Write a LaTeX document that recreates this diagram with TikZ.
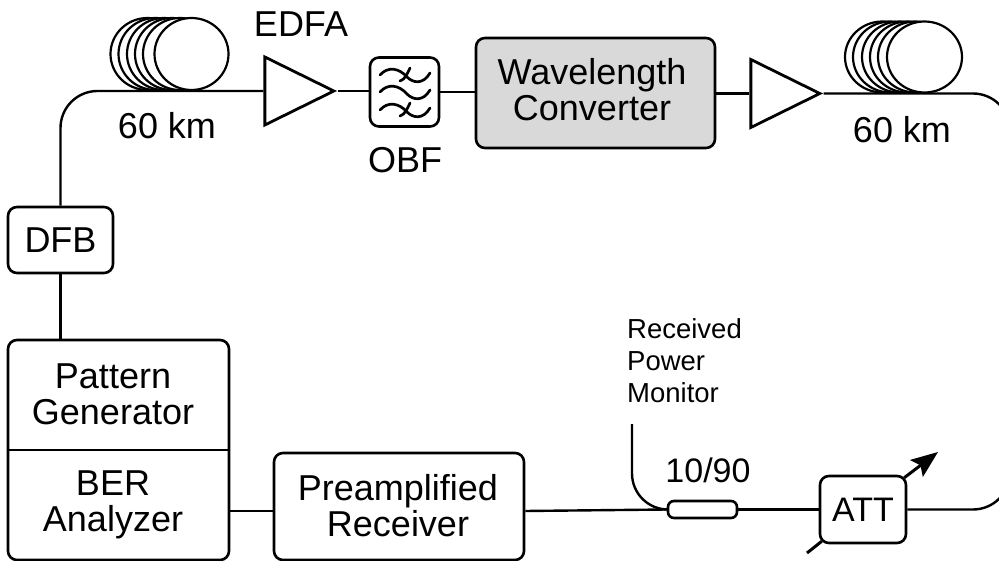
\documentclass[tikz,border=0pt]{standalone}
\usepackage{fontspec}
\setmainfont{Liberation Sans}
\usetikzlibrary{shapes.geometric,arrows.meta}
\tikzset{
  x=1pt,y=-1pt,
  box/.style={draw=black,line width=2.6pt,rounded corners=9pt,inner sep=0pt,align=center},
  label/.style={inner sep=0pt,align=center,font=\fontsize{36}{36}\selectfont},
  small/.style={inner sep=0pt,align=left,font=\fontsize{27.5}{32}\selectfont},
  fiber/.style={draw=black,line width=2.4pt},
  amp/.style={draw=black,line width=2.8pt,isosceles triangle,isosceles triangle stretches=true,
    minimum height=69pt,minimum width=68pt,inner sep=0pt},
  coilback/.style={draw=black,line width=2.2pt,fill=white},
  wave/.style={line width=2.7pt,line cap=round},
}
\begin{document}
\begin{tikzpicture}
\useasboundingbox (0,0) rectangle (999,561);
\clip (0,0) rectangle (999,561);
% coils
\foreach \cx in {147.5,155.5,164,172,180,191.5}{
  \draw[coilback] (\cx,54) ellipse [x radius=37pt,y radius=36pt];
}
\foreach \cx in {882.5,890.5,899.5,907.5,915.5,924.5}{
  \draw[coilback] (\cx,57) ellipse [x radius=37.5pt,y radius=35.5pt];
}
% nodes
\node[box,font=\fontsize{36}{36}\selectfont,minimum width=105pt,minimum height=66pt] (dfb) at (60.5,240) {DFB};
\node[box,minimum width=221pt,minimum height=220pt] (pg) at (118.5,450) {};
\node[amp] (amp1) at (286,91) {};
\node[box,minimum width=69pt,minimum height=69pt] (obf) at (404.5,92) {};
\node[box,fill=gray!30,minimum width=239pt,minimum height=110pt] (wc) at (595.5,93) {};
\node[amp] (amp2) at (772,93.5) {};
\node[box,minimum width=250pt,minimum height=107pt] (rx) at (399,506.5) {};
\node[box,minimum width=69pt,minimum height=17pt,rounded corners=6pt] (cpl) at (702.5,509.5) {};
\node[box,font=\fontsize{34}{36}\selectfont,minimum width=86pt,minimum height=67pt] (att) at (863,509.5) {ATT};
% coordinates
\coordinate (mon) at (632,424);
\coordinate (rightMid) at (1010,300);
\coordinate (attIn) at (807,553);
\coordinate (attOut) at (938,452);
\coordinate (link) at (0,511);
% fibers
\draw[fiber,rounded corners=37pt] (dfb.north) -- (dfb.north |- amp1.lower side) -- (amp1.lower side);
\draw[fiber] (dfb.south) -- (dfb.south |- pg.north);
\draw[fiber] (amp1.apex) -- (amp1.apex -| obf.west);
\draw[fiber] (obf.east) -- (obf.east -| wc.west);
\draw[fiber] (amp2.lower side -| wc.east) -- (amp2.lower side);
\draw[fiber,rounded corners=37pt] (amp2.apex) -- (amp2.apex -| rightMid) -- (rightMid);
\draw[line width=2.6pt] (pg.west) -- (pg.east);
\draw[fiber] (pg.east |- link) -- (rx.west |- link);
\draw[fiber] (rx.east |- link) -- (cpl.west);
\draw[fiber] (cpl.east) -- (att.west);
\draw[fiber,rounded corners=37pt] (att.east) -- (att.east -| rightMid) -- (rightMid);
\draw[fiber,rounded corners=36pt] (mon) -- (mon |- cpl.west) -- (cpl.west);
% attenuator arrow
\draw[line width=3pt] (attIn) -- ([shift={(3,-3)}]att.south west);
\draw[line width=3pt,-{Stealth[length=27pt,width=21pt,inset=5pt]}] ([shift={(-3,3)}]att.north east) -- (attOut);
% filter glyph
\foreach \yy in {75,92,110}{
  \draw[wave] (380,\yy) .. controls (388,\yy-9) and (399,\yy-7) .. (407,\yy+2) .. controls (413,\yy+8) and (423,\yy+10) .. (430,\yy-2);
}
\foreach \yy in {75,110}{
  \draw[wave] (400,\yy+6) .. controls (405,\yy+5) and (408,\yy-3) .. (410,\yy-7);
}
% labels
\node[label] (l1) at (167,126) {60 km};
\node[label] (l2) at (301,24) {EDFA};
\node[label] (l3) at (405,160) {OBF};
\node[label] (l4) at (592,90) {Wavelength\\Converter};
\node[label] (l5) at (902,130) {60 km};
\node[label] (l6) at (113,394) {Pattern\\Generator};
\node[label] (l7) at (113,505) {BER\\Analyzer};
\node[label] (l8) at (398,506) {Preamplified\\Receiver};
\node[small,anchor=west] (l9) at (627,361) {Received\\Power\\Monitor};
\node[label,font=\fontsize{34}{36}\selectfont] (l10) at (708,470) {10/90};
\end{tikzpicture}
\end{document}
